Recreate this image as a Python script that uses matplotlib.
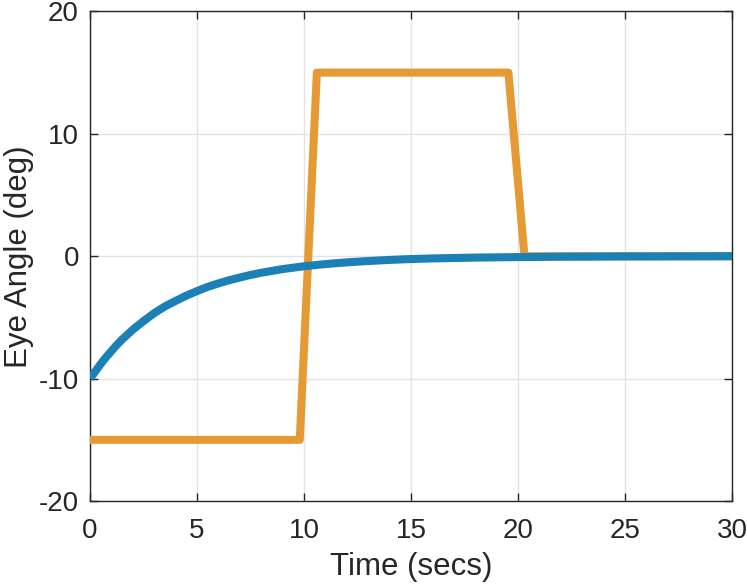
import matplotlib
matplotlib.use("Agg")
import matplotlib.pyplot as plt

# target (orange) trace
target_t = [0.0, 9.8, 10.6, 19.55, 20.3, 30.0]
target_deg = [-15.0, -15.0, 15.0, 15.0, 0.0, 0.0]

# eye (blue) trace
eye_t = [0, 0.25, 0.5, 0.75, 1, 1.25, 1.5, 1.75, 2, 2.5, 3, 3.5, 4, 4.5,
         5, 5.5, 6, 6.5, 7, 7.5, 8, 9, 10, 11, 12, 13, 14, 15, 16, 18, 20,
         22, 25, 30]
eye_deg = [-10.0, -9.4, -8.8, -8.25, -7.75, -7.25, -6.8, -6.4, -6.0, -5.3,
           -4.65, -4.1, -3.65, -3.22, -2.85, -2.5, -2.22, -1.96, -1.74,
           -1.53, -1.35, -1.05, -0.82, -0.64, -0.5, -0.39, -0.3, -0.23,
           -0.18, -0.11, -0.07, -0.04, -0.02, 0.0]

x_ticks = [0, 5, 10, 15, 20, 25, 30]
y_ticks = [-20, -10, 0, 10, 20]

plt.rcParams['font.family'] = ['Liberation Sans', 'DejaVu Sans']
text_col = '#262626'

fig = plt.figure(figsize=(7.47, 5.86), dpi=100)
ax = fig.add_axes([0.1205, 0.145, 0.8595, 0.8355])

ax.plot(target_t, target_deg, color='#E69A35', linewidth=5.8,
        solid_joinstyle='round', solid_capstyle='butt', zorder=3)
ax.plot(eye_t, eye_deg, color='#1A80B5', linewidth=5.8,
        solid_joinstyle='round', solid_capstyle='butt', zorder=4)

ax.set_xlim(0, 30)
ax.set_ylim(-20, 20)
ax.set_xticks(x_ticks)
ax.set_yticks(y_ticks)
ax.set_xticklabels([str(v) for v in x_ticks])
ax.set_yticklabels([str(v) for v in y_ticks])

ax.grid(True, color='#e3e3e3', linewidth=1.0)
ax.set_axisbelow(True)
for s in ax.spines.values():
    s.set_color(text_col)
    s.set_linewidth(1.0)
ax.tick_params(direction='in', length=6, width=1, color=text_col,
               top=True, right=True, labelsize=20, labelcolor=text_col)
ax.tick_params(axis='x', pad=12)
ax.tick_params(axis='y', pad=8)

ax.set_xlabel('Time (secs)', fontsize=22.5, color=text_col, labelpad=6)
ax.set_ylabel('Eye Angle (deg)', fontsize=22.5, color=text_col, labelpad=3)

fig.savefig('out.png', dpi=100)
